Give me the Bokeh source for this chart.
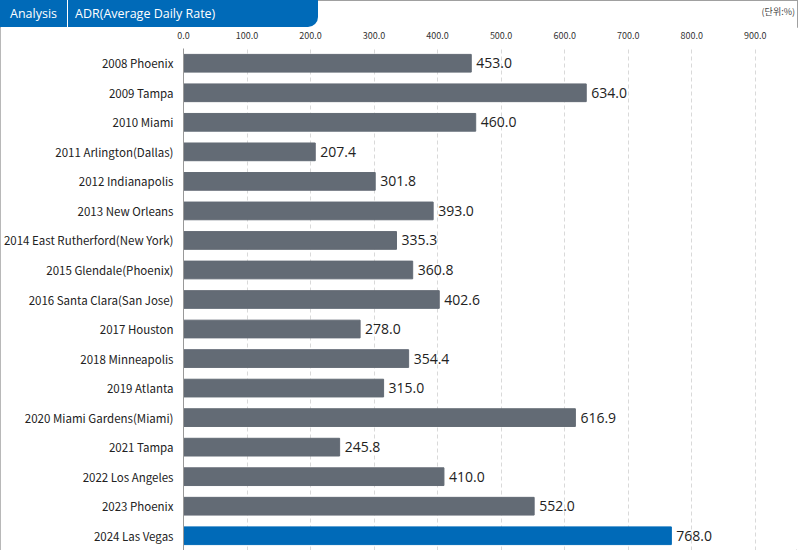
from bokeh.plotting import figure
from bokeh.layouts import column
from bokeh.models import (ColumnDataSource, FactorRange, Range1d, LabelSet, Div,
                          SingleIntervalTicker, PrintfTickFormatter)
from bokeh.core.properties import value
from bokeh.embed import file_html
from bokeh.resources import INLINE

categories = ["2008 Phoenix", "2009 Tampa", "2010 Miami", "2011 Arlington(Dallas)",
              "2012 Indianapolis", "2013 New Orleans", "2014 East Rutherford(New York)",
              "2015 Glendale(Phoenix)", "2016 Santa Clara(San Jose)", "2017 Houston",
              "2018 Minneapolis", "2019 Atlanta", "2020 Miami Gardens(Miami)", "2021 Tampa",
              "2022 Los Angeles", "2023 Phoenix", "2024 Las Vegas"]
values = [453.0, 634.0, 460.0, 207.4, 301.8, 393.0, 335.3, 360.8, 402.6, 278.0,
          354.4, 315.0, 616.9, 245.8, 410.0, 552.0, 768.0]
highlight = "2024 Las Vegas"
tab_labels = ["Analysis", "ADR(Average Daily Rate)"]
unit_label = "(단위:%)"

GRAY = "#636b75"
BLUE = "#006ab8"
colors = [BLUE if c == highlight else GRAY for c in categories]
labels = ["%.1f" % v for v in values]

W = 798
HEAD_H = 27
MAIN_H = 523

# ---------------- header strip (tab + unit) ----------------
head_html = (
    '<div style="position:relative;width:%dpx;height:%dpx;">'
    '<div style="position:absolute;left:0;top:0;width:318px;height:%dpx;background:%s;'
    'border-bottom-right-radius:10px;"></div>'
    '<div style="position:absolute;left:66.5px;top:0;width:1.5px;height:%dpx;background:#ffffff;"></div>'
    '<span style="position:absolute;left:10px;top:0;line-height:28px;color:#fff;'
    'font-family:\'Open Sans\';font-size:12.5px;white-space:nowrap;">%s</span>'
    '<span style="position:absolute;left:75px;top:0;line-height:28px;color:#fff;'
    'font-family:\'Open Sans\';font-size:12.5px;white-space:nowrap;">%s</span>'
    '<span style="position:absolute;right:3px;top:6px;line-height:12px;color:#444;'
    'font-family:\'Noto Sans CJK KR\';font-size:9px;white-space:nowrap;">%s</span>'
    '</div>'
) % (W, HEAD_H, HEAD_H, BLUE, HEAD_H, tab_labels[0], tab_labels[1], unit_label)
hd = Div(text=head_html, width=W, height=HEAD_H, margin=0)

# ---------------- main bar chart ----------------
src = ColumnDataSource(dict(cat=categories, val=values, color=colors, lab=labels))

p = figure(width=W, height=MAIN_H, output_backend="svg", toolbar_location=None,
           y_range=FactorRange(factors=list(reversed(categories))),
           x_range=Range1d(0, 965), x_axis_location="above",
           min_border_left=182, min_border_top=21, min_border_right=2, min_border_bottom=0)
p.outline_line_color = None

p.hbar(y="cat", right="val", left=0, height=0.6, color="color", source=src)

p.add_layout(LabelSet(x="val", y="cat", text="lab", source=src, x_offset=5,
                      text_baseline="middle", text_font=value("Open Sans"),
                      text_font_size=value("14px"), text_color="#222222"))

xa = p.xaxis[0]
xa.ticker = SingleIntervalTicker(interval=100)
xa.formatter = PrintfTickFormatter(format="%.1f")
xa.axis_line_color = None
xa.major_tick_line_color = None
xa.minor_tick_line_color = None
xa.major_label_text_font = "Noto Sans CJK KR"
xa.major_label_text_font_size = "9px"
xa.major_label_text_color = "#333333"
xa.major_label_standoff = 4

ya = p.yaxis[0]
ya.axis_line_color = "#999999"
ya.major_tick_line_color = None
ya.minor_tick_line_color = None
ya.major_label_text_font = "Noto Sans CJK KR"
ya.major_label_text_font_size = "11.5px"
ya.major_label_text_color = "#222222"
ya.major_label_standoff = 4

p.ygrid.grid_line_color = None
p.xgrid.grid_line_color = "#d9d9d9"
p.xgrid.grid_line_dash = "4 3"

layout = column(hd, p, spacing=0,
                styles={"outline": "1px solid #a0a0a0", "outline-offset": "-1px"})

open("out.html", "w").write(file_html(layout, INLINE))
